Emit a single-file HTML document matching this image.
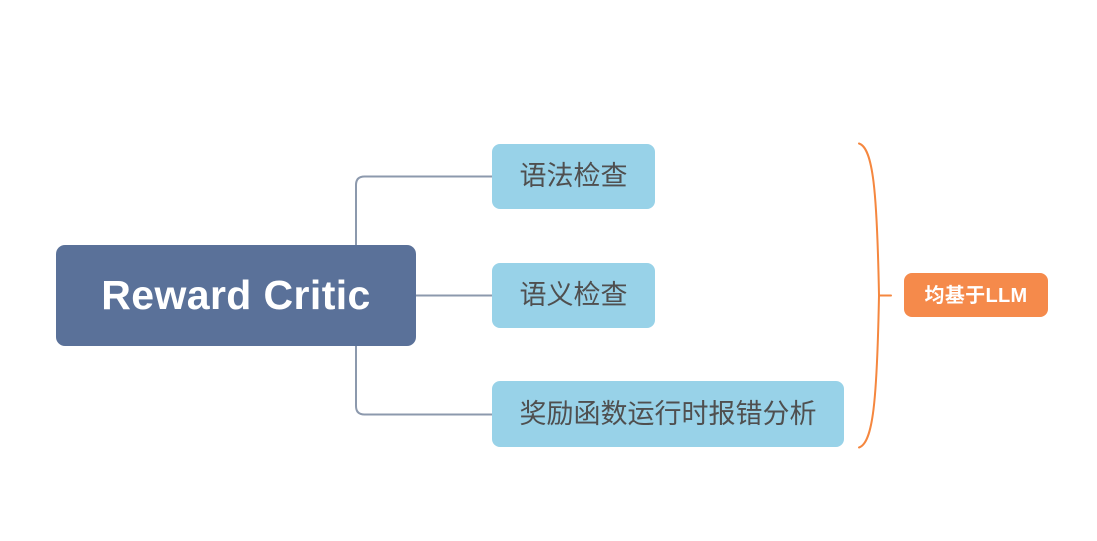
<!DOCTYPE html>
<html>
<head>
<meta charset="utf-8">
<style>
  html, body { margin:0; padding:0; background:#ffffff; }
  body { width:1097px; height:541px; position:relative; overflow:hidden; }
  svg { position:absolute; left:0; top:0; }
  .box { position:absolute; box-sizing:border-box; text-align:center; white-space:nowrap; }
  .root { left:56px; top:245px; width:360px; height:101px; background:#5A7199; border-radius:9px;
          color:#ffffff; font-family:"Liberation Sans", sans-serif; font-weight:bold; font-size:41px;
          line-height:101px; letter-spacing:0.4px; }
  .child { background:#98D2E8; border-radius:8px; color:#4f4f4f;
           font-family:"Liberation Sans", "Noto Sans CJK SC", sans-serif; font-size:27px; }
  .c1 { left:492px; top:144px; width:163px; height:65px; line-height:65px; }
  .c2 { left:492px; top:263px; width:163px; height:65px; line-height:65px; }
  .c3 { left:492px; top:381px; width:352px; height:66px; line-height:66px; }
  .tag { left:904px; top:273px; width:144px; height:44px; line-height:47px; background:#F58A4B; border-radius:8px;
         color:#ffffff; font-family:"Liberation Sans", "Noto Sans CJK SC", sans-serif; font-weight:bold; font-size:20px; letter-spacing:0.3px; }
</style>
</head>
<body>
<svg width="1097" height="541" viewBox="0 0 1097 541">
  <g fill="none" stroke="#8C99AD" stroke-width="2">
    <path d="M356 245 L356 185 Q356 176.5 364.5 176.5 L492 176.5"/>
    <path d="M356 346 L356 406 Q356 414.5 364.5 414.5 L492 414.5"/>
    <path d="M416 295.5 L492 295.5"/>
  </g>
  <g fill="none" stroke="#F5873F" stroke-width="2" stroke-linecap="round">
    <path d="M859 143.5 C873 148 877 190 879 295.5 C877 401 873 443 859 447.5"/>
    <path d="M879 295.5 L891 295.5"/>
  </g>
</svg>
<div class="box root">Reward Critic</div>
<div class="box child c1">语法检查</div>
<div class="box child c2">语义检查</div>
<div class="box child c3">奖励函数运行时报错分析</div>
<div class="box tag">均基于LLM</div>
</body>
</html>
